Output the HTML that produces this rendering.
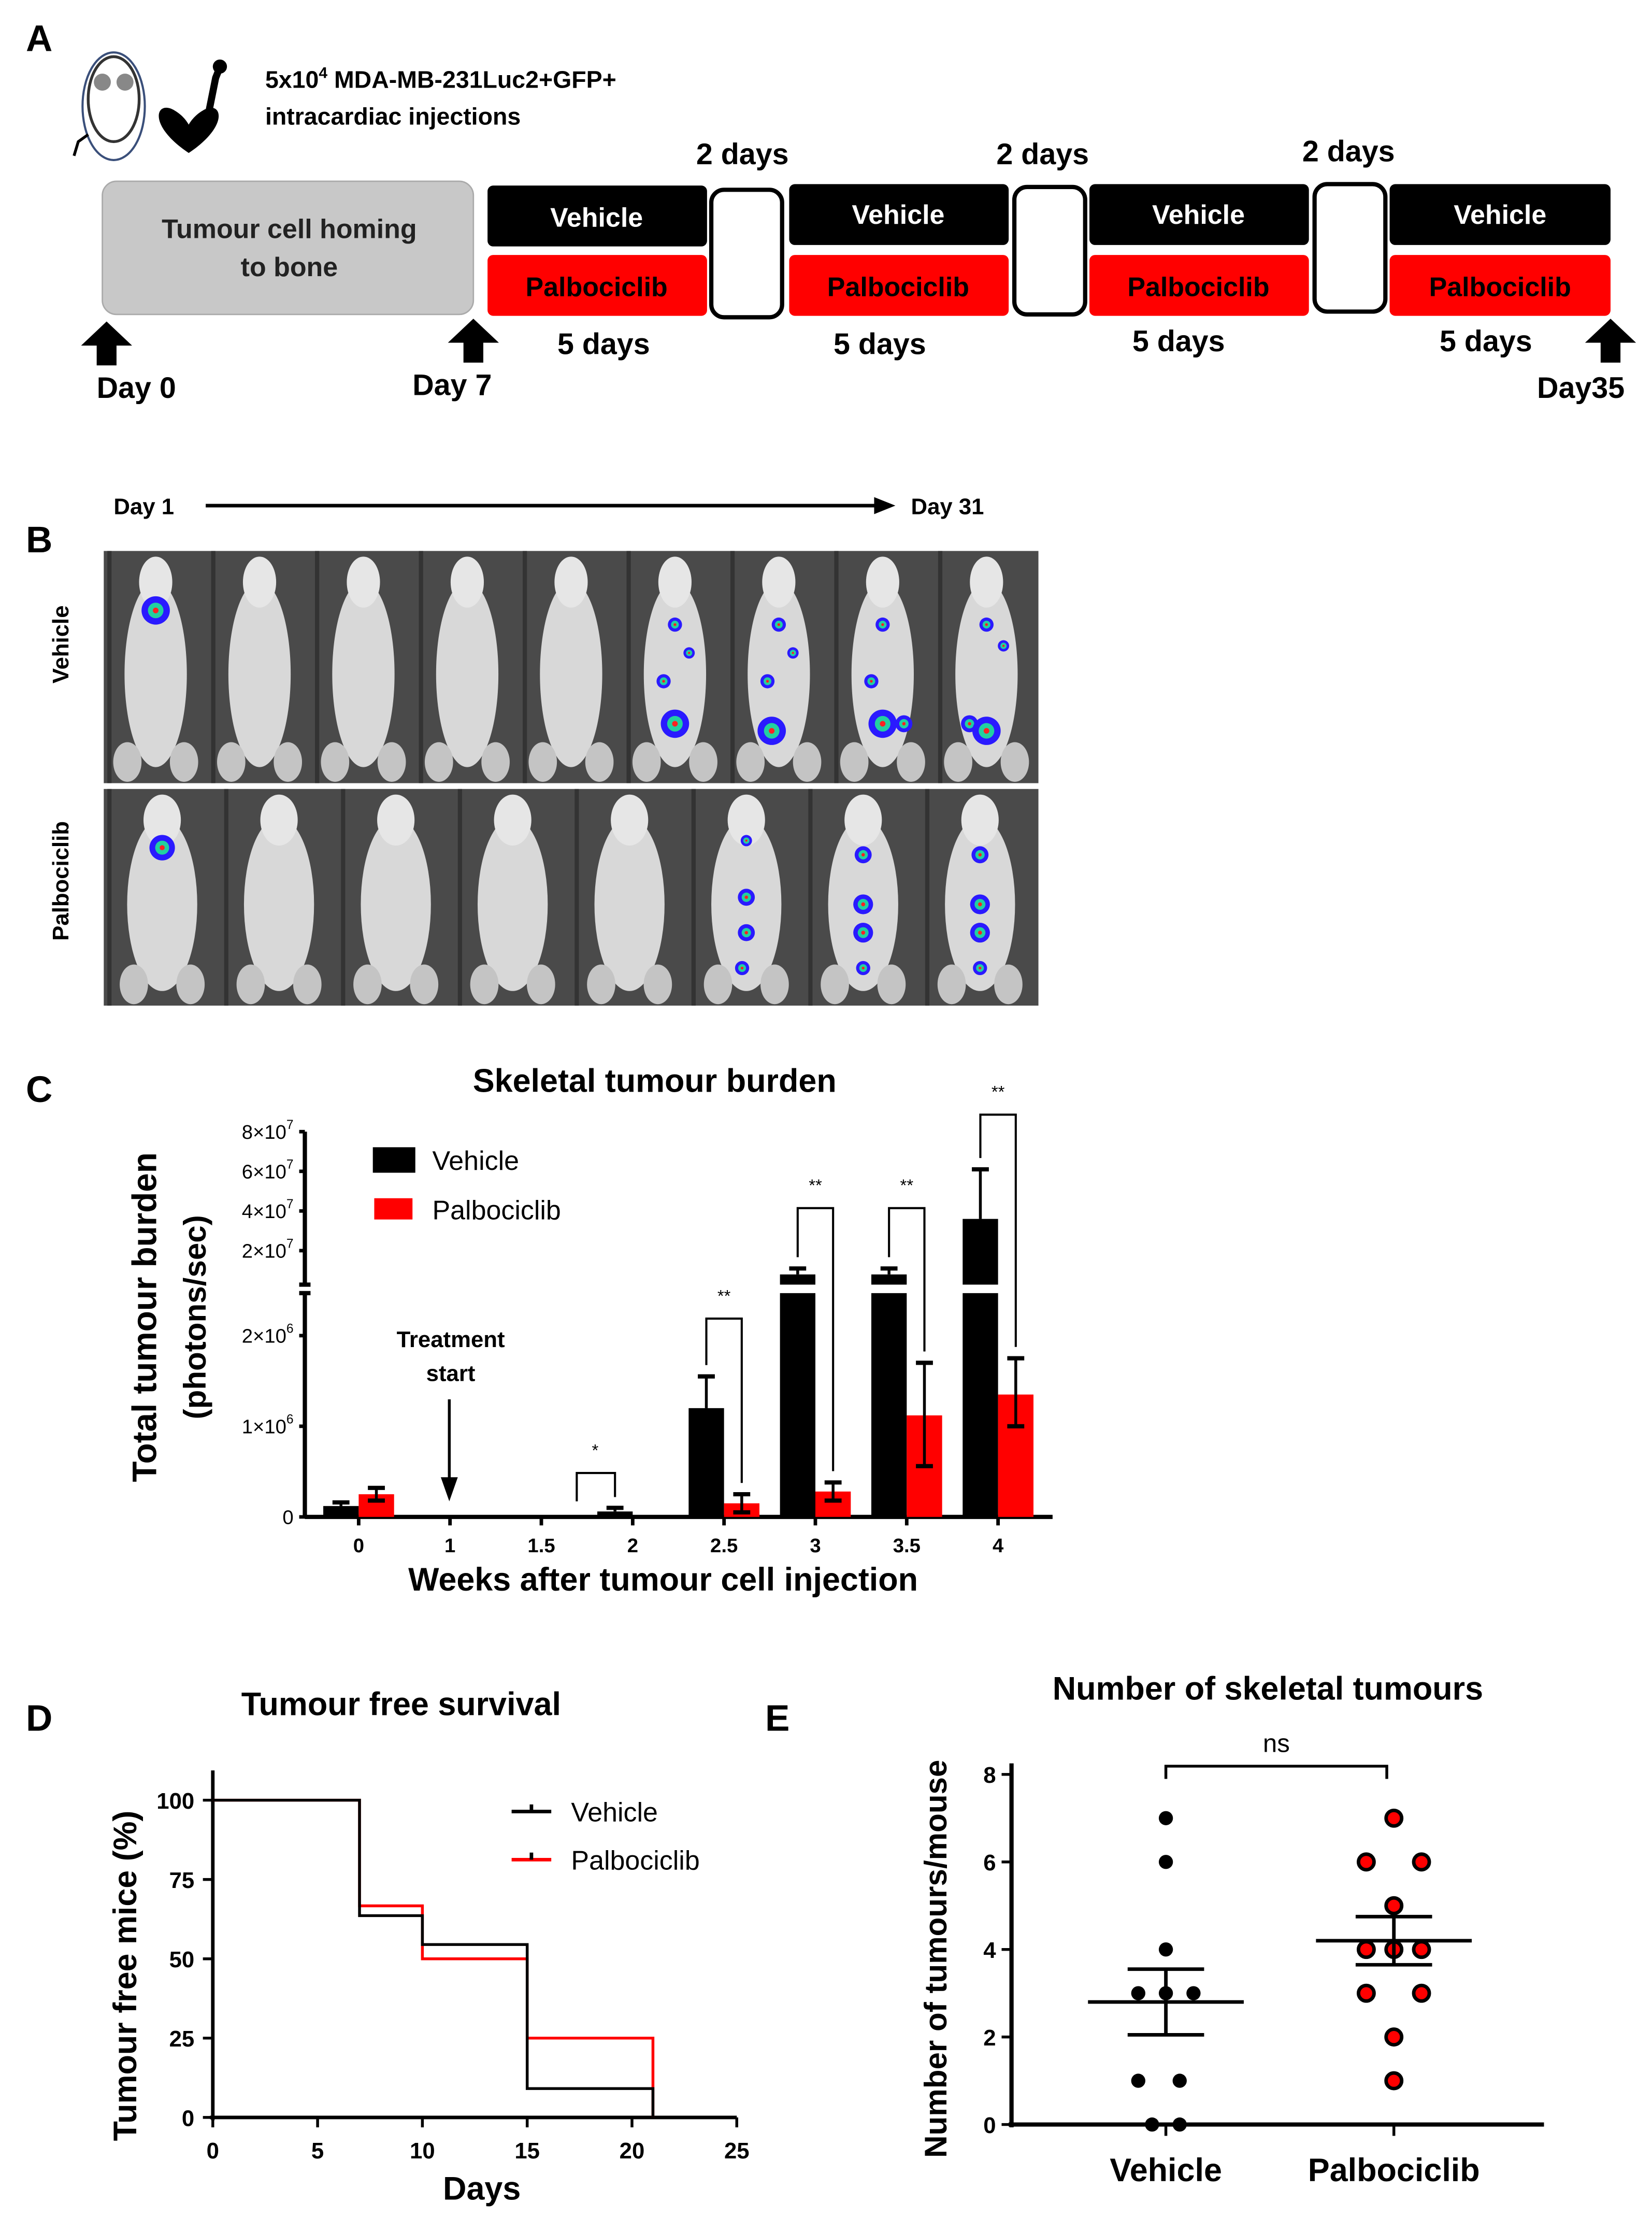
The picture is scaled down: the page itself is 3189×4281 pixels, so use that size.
<!DOCTYPE html>
<html><head><meta charset="utf-8">
<style>
html,body{margin:0;padding:0;background:#fff;}
svg{display:block;}
text{font-family:"Liberation Sans Narrow","Liberation Sans",sans-serif;}
.b{font-weight:bold;}
</style></head>
<body>
<svg id="fig" width="3189" height="4281" viewBox="0 0 1166 1566" xmlns="http://www.w3.org/2000/svg">
<rect width="1166" height="1566" fill="#fff"/>
<!-- Panel A -->
<g>
<text x="18" y="36" font-size="26" class="b">A</text>
<g>
<ellipse cx="80" cy="70" rx="18" ry="30" fill="none" stroke="#333" stroke-width="2"/>
<ellipse cx="80" cy="75" rx="22" ry="38" fill="none" stroke="#3a4f7a" stroke-width="1.5"/>
<circle cx="72" cy="58" r="6" fill="#888"/><circle cx="88" cy="58" r="6" fill="#888"/>
<path d="M62 95 L55 100 L52 110" stroke="#000" stroke-width="2" fill="none"/>
<path d="M135 110 C105 90 112 72 125 80 C132 84 135 90 135 90 C135 90 138 84 145 80 C158 72 165 90 135 110Z" fill="#000" transform="translate(-2,-2)"/>
<path d="M147 80 L152 55 L156 45" stroke="#000" stroke-width="5"/>
<circle cx="155" cy="47" r="5" fill="#000"/>
</g>
<text x="187" y="62" font-size="17" class="b">5x10<tspan font-size="11" dy="-7">4</tspan><tspan dy="7"> MDA-MB-231Luc2+GFP+</tspan></text>
<text x="187" y="88" font-size="17" class="b">intracardiac injections</text>
<rect x="72" y="128" width="262" height="94" rx="10" fill="#c8c8c8" stroke="#aaa"/>
<text x="204" y="168" font-size="19" class="b" text-anchor="middle" fill="#222">Tumour cell homing</text>
<text x="204" y="195" font-size="19" class="b" text-anchor="middle" fill="#222">to bone</text>
<g>
<rect x="344" y="131" width="155" height="43" rx="4" fill="#000"/><text x="421" y="160" font-size="19" class="b" fill="#fff" text-anchor="middle">Vehicle</text>
<rect x="344" y="180" width="155" height="43" rx="4" fill="#f00"/><text x="421" y="209" font-size="19" class="b" text-anchor="middle">Palbociclib</text>
<rect x="502" y="134" width="50" height="90" rx="9" fill="#fff" stroke="#000" stroke-width="3"/>
<rect x="557" y="130" width="155" height="43" rx="4" fill="#000"/><text x="634" y="158" font-size="19" class="b" fill="#fff" text-anchor="middle">Vehicle</text>
<rect x="557" y="180" width="155" height="43" rx="4" fill="#f00"/><text x="634" y="209" font-size="19" class="b" text-anchor="middle">Palbociclib</text>
<rect x="716" y="132" width="50" height="90" rx="9" fill="#fff" stroke="#000" stroke-width="3"/>
<rect x="769" y="130" width="155" height="43" rx="4" fill="#000"/><text x="846" y="158" font-size="19" class="b" fill="#fff" text-anchor="middle">Vehicle</text>
<rect x="769" y="180" width="155" height="43" rx="4" fill="#f00"/><text x="846" y="209" font-size="19" class="b" text-anchor="middle">Palbociclib</text>
<rect x="928" y="130" width="50" height="90" rx="9" fill="#fff" stroke="#000" stroke-width="3"/>
<rect x="981" y="130" width="156" height="43" rx="4" fill="#000"/><text x="1059" y="158" font-size="19" class="b" fill="#fff" text-anchor="middle">Vehicle</text>
<rect x="981" y="180" width="156" height="43" rx="4" fill="#f00"/><text x="1059" y="209" font-size="19" class="b" text-anchor="middle">Palbociclib</text>
</g>
<g font-size="21" class="b">
<text x="524" y="116" text-anchor="middle">2 days</text><text x="736" y="116" text-anchor="middle">2 days</text><text x="952" y="114" text-anchor="middle">2 days</text>
<text x="426" y="250" text-anchor="middle">5 days</text><text x="621" y="250" text-anchor="middle">5 days</text><text x="832" y="248" text-anchor="middle">5 days</text><text x="1049" y="248" text-anchor="middle">5 days</text>
<text x="96" y="281" text-anchor="middle">Day 0</text><text x="319" y="279" text-anchor="middle">Day 7</text><text x="1116" y="281" text-anchor="middle">Day35</text>
</g>
<g fill="#000">
<path d="M57 244 L75 227 L93 244 L82 244 L82 258 L68 258 L68 244Z"/>
<path d="M316 242 L334 225 L352 242 L341 242 L341 256 L327 256 L327 242Z"/>
<path d="M1119 242 L1137 225 L1155 242 L1144 242 L1144 256 L1130 256 L1130 242Z"/>
</g>
</g>
<!-- Panel B -->
<g>
<text x="18" y="390" font-size="26" class="b">B</text>
<text x="80" y="363" font-size="16" class="b">Day 1</text>
<line x1="145" y1="357" x2="620" y2="357" stroke="#000" stroke-width="2.5"/>
<path d="M632 357 L617 351 L617 363Z" fill="#000"/>
<text x="643" y="363" font-size="16" class="b">Day 31</text>
<text transform="translate(48,455) rotate(-90)" font-size="16" class="b" text-anchor="middle">Vehicle</text>
<text transform="translate(48,622) rotate(-90)" font-size="16" class="b" text-anchor="middle">Palbociclib</text>
<g id="imgs"></g>
</g>
<!-- Panel C -->
<g id="panelC">
<text x="18" y="778" font-size="26" class="b">C</text>
<text x="462" y="771" font-size="23" class="b" text-anchor="middle">Skeletal tumour burden</text>
<text transform="translate(110,930) rotate(-90)" font-size="24" class="b" text-anchor="middle" font-family="Liberation Sans">Total tumour burden</text>
<text transform="translate(145,930) rotate(-90)" font-size="22" class="b" text-anchor="middle" font-family="Liberation Sans">(photons/sec)</text>
<text x="468" y="1123" font-size="23" class="b" text-anchor="middle">Weeks after tumour cell injection</text>
<rect x="263" y="810" width="30" height="18" fill="#000"/>
<text x="305" y="826" font-size="19" font-family="Liberation Sans">Vehicle</text>
<rect x="264" y="846" width="27" height="15" fill="#f00"/>
<text x="305" y="861" font-size="19" font-family="Liberation Sans">Palbociclib</text>
<text x="318" y="951" font-size="16" class="b" text-anchor="middle">Treatment</text>
<text x="318" y="975" font-size="16" class="b" text-anchor="middle">start</text>
<line x1="317" y1="988" x2="317" y2="1050" stroke="#000" stroke-width="2"/>
<path d="M317 1060 L311 1043 L323 1043Z" fill="#000"/>
</g>
<!-- Panel D -->
<g id="panelD">
<text x="18" y="1222" font-size="26" class="b">D</text>
<text x="283" y="1211" font-size="23" class="b" text-anchor="middle">Tumour free survival</text>
<text transform="translate(96,1395) rotate(-90)" font-size="23" class="b" text-anchor="middle" font-family="Liberation Sans">Tumour free mice (%)</text>
<text x="340" y="1553" font-size="23" class="b" text-anchor="middle">Days</text>
<line x1="361" y1="1279" x2="389" y2="1279" stroke="#000" stroke-width="2.5"/><line x1="375" y1="1274" x2="375" y2="1279" stroke="#000" stroke-width="2.5"/>
<text x="403" y="1286" font-size="19" font-family="Liberation Sans">Vehicle</text>
<line x1="361" y1="1313" x2="389" y2="1313" stroke="#f00" stroke-width="2.5"/><line x1="375" y1="1308" x2="375" y2="1313" stroke="#000" stroke-width="2.5"/>
<text x="403" y="1320" font-size="19" font-family="Liberation Sans">Palbociclib</text>
</g>
<!-- Panel E -->
<g id="panelE">
<text x="540" y="1222" font-size="26" class="b">E</text>
<text x="895" y="1200" font-size="23" class="b" text-anchor="middle">Number of skeletal tumours</text>
<text transform="translate(668,1383) rotate(-90)" font-size="22" class="b" text-anchor="middle" font-family="Liberation Sans">Number of tumours/mouse</text>
<path d="M823 1256 L823 1247 L979 1247 L979 1256" fill="none" stroke="#000" stroke-width="2"/>
<text x="901" y="1237" font-size="18" text-anchor="middle" font-family="Liberation Sans">ns</text>
</g>
</svg>
<script>
const NS="http://www.w3.org/2000/svg";
function mk(p,t,a){const e=document.createElementNS(NS,t);for(const k in a)e.setAttribute(k,a[k]);p.appendChild(e);return e;}
const imgs=document.getElementById('imgs');
const rows=[{y:389,h:164},{y:557,h:153}];
const vehSpots=[[[0,-40,10]],[],[],[],[],[[0,-30,5],[-8,10,5],[0,40,10],[10,-10,4]],[[0,-30,5],[-8,10,5],[-5,45,10],[10,-10,4]],[[0,-30,5],[-8,10,5],[0,40,10],[15,40,6]],[[0,-30,5],[12,-15,4],[-12,40,6],[0,45,10]]];
const palSpots=[[[0,-35,9]],[],[],[],[],[[0,-40,4],[0,0,6],[0,25,6],[-3,50,5]],[[0,-30,6],[0,5,7],[0,25,7],[0,50,5]],[[0,-30,6],[0,5,7],[0,25,7],[0,50,5]]];
rows.forEach((r,ri)=>{
  const g=mk(imgs,'g',{});
  
  
  mk(g,'rect',{x:73,y:r.y,width:660,height:r.h,fill:'#4a4a4a'});
  const n=ri===0?9:8, w=660/n, sp=ri===0?vehSpots:palSpots;
  for(let i=0;i<n;i++){
    const cx=73+w*(i+0.5), cy=r.y+r.h/2;
    mk(g,'line',{x1:73+w*i+4,y1:r.y,x2:73+w*i+4,y2:r.y+r.h,stroke:'#333','stroke-width':3});
    mk(g,'ellipse',{cx:cx,cy:cy+5,rx:w*0.3,ry:r.h*0.4,fill:'#d8d8d8'});
    mk(g,'ellipse',{cx:cx,cy:r.y+22,rx:w*0.16,ry:18,fill:'#e6e6e6'});
    mk(g,'ellipse',{cx:cx-20,cy:r.y+r.h-15,rx:10,ry:14,fill:'#c4c4c4'});
    mk(g,'ellipse',{cx:cx+20,cy:r.y+r.h-15,rx:10,ry:14,fill:'#c4c4c4'});
    (sp[i]||[]).forEach(s=>{
      mk(g,'circle',{cx:cx+s[0],cy:cy+s[1],r:s[2],fill:'#2a1aff'});
      mk(g,'circle',{cx:cx+s[0],cy:cy+s[1],r:s[2]*0.55,fill:'#22d0a0'});
      mk(g,'circle',{cx:cx+s[0],cy:cy+s[1],r:s[2]*0.2,fill:'#f22'});
    });
  }
});
mk(imgs,'rect',{x:73,y:553,width:660,height:4,fill:'#fff'});
</script>
<script>
// Panel C data
const weeks=["0","1","1.5","2","2.5","3","3.5","4"];
const vehMean=[120000,0,0,60000,1200000,8000000,8000000,36000000];
const vehErr=[160000,0,0,100000,1550000,11000000,11000000,61000000];
const palMean=[250000,0,0,0,150000,280000,1120000,1350000];
const palErr=[320000,0,0,0,250000,380000,1700000,1750000];
const palErrLow=[180000,0,0,0,50000,180000,560000,1000000];
const sigLabels=["","","","*","**","**","**","**"];
const lowTicks=[0,1000000,2000000];
const lowTickLabels=["0","1×10","2×10"];
const lowTickExp=["","6","6"];
const highTicks=[20000000,40000000,60000000,80000000];
const highTickLabels=["2×10","4×10","6×10","8×10"];
(function(){
  const g=document.getElementById('panelC');
  const x0=253, dx=64.5, axisX=215, base=1071, pxPer=64e-6, breakHigh=907;
  const yScale=v=> v<=2.6e6 ? base-v*pxPer : 911-v*1.4e-6;
  const xc=i=>x0+i*dx;
  mk(g,'line',{x1:axisX,y1:base,x2:axisX,y2:913,stroke:'#000','stroke-width':3});
  mk(g,'line',{x1:axisX,y1:907,x2:axisX,y2:799,stroke:'#000','stroke-width':3});
  mk(g,'line',{x1:axisX-4,y1:907,x2:axisX+4,y2:907,stroke:'#000','stroke-width':3});
  mk(g,'line',{x1:axisX-4,y1:913,x2:axisX+4,y2:913,stroke:'#000','stroke-width':3});
  mk(g,'line',{x1:axisX,y1:base,x2:743,y2:base,stroke:'#000','stroke-width':3});
  lowTicks.forEach((v,i)=>{
    const y=yScale(v);
    mk(g,'line',{x1:axisX-4,y1:y,x2:axisX,y2:y,stroke:'#000','stroke-width':2.5});
    const t=mk(g,'text',{x:axisX-8,y:y+5,'font-size':14,'text-anchor':'end'});
    t.innerHTML=lowTickLabels[i]+(lowTickExp[i]?'<tspan font-size="9" dy="-7">'+lowTickExp[i]+'</tspan>':'');
    
    
  });
  highTicks.forEach((v,i)=>{
    const y=yScale(v);
    mk(g,'line',{x1:axisX-4,y1:y,x2:axisX,y2:y,stroke:'#000','stroke-width':2.5});
    const t=mk(g,'text',{x:axisX-8,y:y+5,'font-size':14,'text-anchor':'end'});
    t.innerHTML=highTickLabels[i]+'<tspan font-size="9" dy="-7">7</tspan>';
    
    
  });
  weeks.forEach((w,i)=>{
    const x=xc(i);
    mk(g,'line',{x1:x,y1:base,x2:x,y2:base+6,stroke:'#000','stroke-width':2.5});
    const t=mk(g,'text',{x:x,y:base+25,'font-size':14,'text-anchor':'middle','font-weight':'bold'});
    t.textContent=w;
    
    
    const bw=25;
    [[vehMean,vehErr,null,'#000',x-bw,'bar-vehicle'],[palMean,palErr,palErrLow,'#f00',x,'bar-palbociclib']].forEach(s=>{
      const v=s[0][i]; if(!v) return;
      const y=yScale(v);
      const r=mk(g,'rect',{x:s[4],y:y,width:bw,height:base-y,fill:s[3]});
      
      
      if(v>2.6e6) mk(g,'rect',{x:s[4]-1,y:breakHigh,width:bw+2,height:6,fill:'#fff'});
      const cx=s[4]+bw/2, ye=yScale(s[1][i]);
      const yl=s[2]?yScale(s[2][i]):y;
      mk(g,'line',{x1:cx,y1:ye,x2:cx,y2:yl,stroke:'#000','stroke-width':2});
      mk(g,'line',{x1:cx-6,y1:ye,x2:cx+6,y2:ye,stroke:'#000','stroke-width':3});
      if(s[2]) mk(g,'line',{x1:cx-6,y1:yl,x2:cx+6,y2:yl,stroke:'#000','stroke-width':3});
    });
    if(sigLabels[i]){
      const xl=x-bw/2, xr=x+bw/2;
      const ty= i===3?1040: i===4?931: i===5?853: i===6?853:787;
      const d = i===3 ? `M407 1060 L407 ${ty} L434 ${ty} L434 1057`
        : `M${xl} ${yScale(vehErr[i])-8} L${xl} ${ty} L${xr} ${ty} L${xr} ${yScale(palErr[i])-8}`;
      mk(g,'path',{d:d,fill:'none',stroke:'#000','stroke-width':1.5});
      const st=mk(g,'text',{x:(i===3?420:x),y:ty-12,'font-size':12,'text-anchor':'middle'});
      st.textContent=sigLabels[i];
      
      
    }
  });
})();
</script>
<script>
// Panel D data
const survDays=[0,7,10,15,21];
const survVehicle=[100,63.6,54.5,9.1,0];
const survPalbo=[100,66.7,50,25,0];
const dTicksX=[0,5,10,15,20,25];
const dTicksY=[0,25,50,75,100];
(function(){
  const g=document.getElementById('panelD');
  const xs=d=>150+d*14.8, ys=p=>1495-p*2.24;
  mk(g,'line',{x1:150,y1:1250,x2:150,y2:1497,stroke:'#000','stroke-width':2.5});
  mk(g,'line',{x1:148,y1:1495,x2:520,y2:1495,stroke:'#000','stroke-width':2.5});
  dTicksX.forEach(d=>{mk(g,'line',{x1:xs(d),y1:1495,x2:xs(d),y2:1502,stroke:'#000','stroke-width':2});
    const t=mk(g,'text',{x:xs(d),y:1524,'font-size':16,'text-anchor':'middle','font-weight':'bold'});t.textContent=d;
    
    });
  dTicksY.forEach(p=>{mk(g,'line',{x1:143,y1:ys(p),x2:150,y2:ys(p),stroke:'#000','stroke-width':2});
    const t=mk(g,'text',{x:137,y:ys(p)+6,'font-size':16,'text-anchor':'end','font-weight':'bold'});t.textContent=p;
    
    });
  function step(vals,col,name){
    let d=`M${xs(survDays[0])} ${ys(vals[0])}`;
    for(let i=1;i<survDays.length;i++){d+=` L${xs(survDays[i])} ${ys(vals[i-1])} L${xs(survDays[i])} ${ys(vals[i])}`;}
    const p=mk(g,'path',{d:d,fill:'none',stroke:col,'stroke-width':2});
    
    
  }
  step(survPalbo,'#f00','survival-palbociclib');
  step(survVehicle,'#000','survival-vehicle');
})();
</script>
<script>
// Panel E data
const eVehicle=[7,6,4,3,3,3,1,1,0,0];
const eVehicleOffsets=[0,0,0,-1,0,1,-1,0.5,-0.5,0.5];
const ePalbo=[7,6,6,5,4,4,4,3,3,2,1];
const ePalboOffsets=[0,-1,1,0,-1,0,1,-1,1,0,0];
const eVehStats=[2.8,0.75];
const ePalStats=[4.2,0.55];
const eTicks=[0,2,4,6,8];
(function(){
  const g=document.getElementById('panelE');
  const ys=v=>1500-v*30.9;
  mk(g,'line',{x1:714,y1:1245,x2:714,y2:1502,stroke:'#000','stroke-width':3});
  mk(g,'line',{x1:712,y1:1500,x2:1090,y2:1500,stroke:'#000','stroke-width':3});
  eTicks.forEach(v=>{mk(g,'line',{x1:707,y1:ys(v),x2:714,y2:ys(v),stroke:'#000','stroke-width':2});
    const t=mk(g,'text',{x:703,y:ys(v)+6,'font-size':16,'text-anchor':'end','font-weight':'bold'});t.textContent=v;
    
    });
  [[823,'Vehicle'],[984,'Palbociclib']].forEach(c=>{
    mk(g,'line',{x1:c[0],y1:1500,x2:c[0],y2:1508,stroke:'#000','stroke-width':2});
    const t=mk(g,'text',{x:c[0],y:1540,'font-size':23,'text-anchor':'middle','font-weight':'bold','font-family':'Liberation Sans'});t.textContent=c[1];
    
    });
  function grp(vals,offs,cx,fill,stats,name){
    vals.forEach((v,i)=>{const c=mk(g,'circle',{cx:cx+offs[i]*19.5,cy:ys(v),r:fill==='#000'?5:5.5,fill:fill,stroke:'#000','stroke-width':fill==='#000'?0:2.5});
      
      });
    const m=stats[0],s=stats[1];
    mk(g,'line',{x1:cx-55,y1:ys(m),x2:cx+55,y2:ys(m),stroke:'#000','stroke-width':2.5});
    mk(g,'line',{x1:cx,y1:ys(m-s),x2:cx,y2:ys(m+s),stroke:'#000','stroke-width':2.5});
    mk(g,'line',{x1:cx-27,y1:ys(m+s),x2:cx+27,y2:ys(m+s),stroke:'#000','stroke-width':2.5});
    mk(g,'line',{x1:cx-27,y1:ys(m-s),x2:cx+27,y2:ys(m-s),stroke:'#000','stroke-width':2.5});
  }
  grp(eVehicle,eVehicleOffsets,823,'#000',eVehStats,'point-vehicle');
  grp(ePalbo,ePalboOffsets,984,'#f00',ePalStats,'point-palbociclib');
})();
</script>
</body></html>
